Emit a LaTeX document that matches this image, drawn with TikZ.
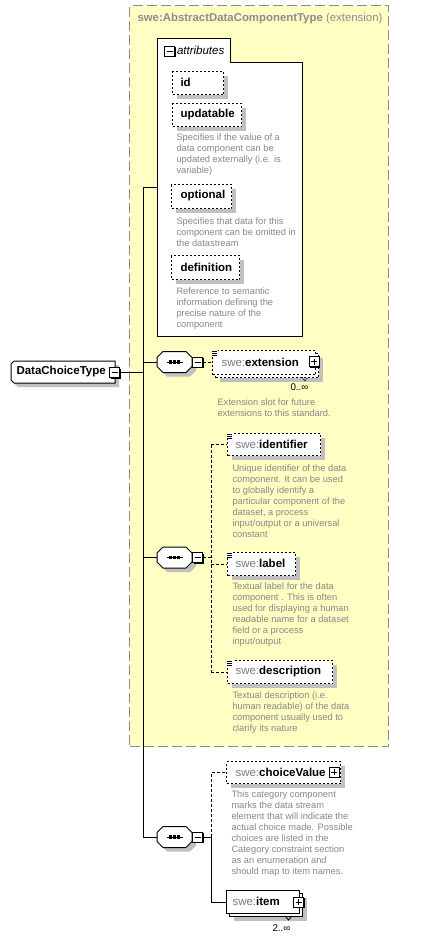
\documentclass[tikz,border=0pt]{standalone}
\usepackage{fontspec}
\setmainfont{Liberation Sans}
\usetikzlibrary{shadows}
\definecolor{yel}{RGB}{255,255,196}
\definecolor{bordergray}{RGB}{140,140,140}
\definecolor{descgray}{RGB}{135,135,135}
\definecolor{pregray}{RGB}{120,120,130}
\definecolor{shadowgray}{RGB}{192,192,192}
\newcommand{\swepre}{\textcolor{pregray}{swe:}}
\newcommand{\seqsym}[4]{%
  \node[inner sep=0, minimum width=35pt, minimum height=21pt] (#1) at (#2,#3) {};
  \begin{scope}[shift={(#2,#3)}]
    \fill[shadowgray, shift={(4,4)}] (-11.5,-10.5) -- (11.5,-10.5) -- (17.5,-4.5) -- (17.5,4.5) -- (11.5,10.5) -- (-11.5,10.5) -- (-17.5,4.5) -- (-17.5,-4.5) -- cycle;
    \draw[fill=white] (-11.5,-10.5) -- (11.5,-10.5) -- (17.5,-4.5) -- (17.5,4.5) -- (11.5,10.5) -- (-11.5,10.5) -- (-17.5,4.5) -- (-17.5,-4.5) -- cycle;
    \draw (-8,0) -- (8,0);
    \foreach \d in {-4,0,4} \fill (\d-1.6,-1.6) rectangle (\d+1.6,1.6);
  \end{scope}
  \node[minus] (#4) at (#2+23,#3) {};
}
\newcommand{\simpleicon}[2]{%
  \fill[white] (#1,#2) rectangle (#1+6,#2+6);
  \foreach \k in {1,3,5} \draw[line width=0.8pt] (#1,#2+\k) -- (#1+5,#2+\k);
}
\begin{document}
\begin{tikzpicture}[x=1pt,y=-1pt,line width=1pt,
  box/.style={draw=black, fill=white, inner sep=0, anchor=north west},
  dbox/.style={box, dash pattern=on 2pt off 2pt},
  shd/.style={general shadow={fill=shadowgray, shadow xshift=4pt, shadow yshift=-4pt}},
  pm/.style={draw=black, fill=white, minimum size=10pt, inner sep=0, general shadow={fill=black, shadow xshift=1pt, shadow yshift=-1pt}},
  minus/.style={pm, path picture={\draw[line width=1pt] ([xshift=2pt]path picture bounding box.west) -- ([xshift=-2pt]path picture bounding box.east);}},
  plus/.style={pm, path picture={\draw[line width=1pt] ([xshift=2pt]path picture bounding box.west) -- ([xshift=-2pt]path picture bounding box.east); \draw[line width=1pt] ([yshift=-2pt]path picture bounding box.north) -- ([yshift=2pt]path picture bounding box.south);}},
  lbl/.style={anchor=west, inner sep=0, font=\fontsize{11.5}{13}\selectfont},
  desc/.style={anchor=west, inner sep=0, align=left, text=descgray, font=\fontsize{9.3}{11}\selectfont},
  mult/.style={anchor=west, inner sep=0, font=\fontsize{9.8}{11}\selectfont},
  dsh/.style={dash pattern=on 3pt off 2pt}]
\useasboundingbox (0,0) rectangle (431,940);
\fill[white] (0,0) rectangle (431,940);

% extension region
\node[draw=bordergray, fill=yel, dash pattern=on 10pt off 4pt, line width=1pt, anchor=north west, minimum width=259pt, minimum height=741pt, inner sep=0] (extreg) at (129,5) {};
\node[anchor=west, inner sep=0, font=\fontsize{11.4}{13}\selectfont, text=bordergray] (title) at (137,19) {\textbf{swe:AbstractDataComponentType} (extension)};

% attributes
\node[inner sep=0, anchor=north west, minimum width=145pt, minimum height=298pt] (attrs) at (157,38) {};
\draw[fill=white] (157,38) -- (230,38) -- (230,62) -- (302,62) -- (302,336) -- (157,336) -- cycle;
\node[minus] (attrm) at (169.5,51) {};
\node[lbl] (attrl) at (176.5,50.5) {\textit{attributes}};

\node[dbox, shd, minimum width=51pt, minimum height=23pt] (aid) at (172,71) {};
\node[lbl] (aidl) at (180,82.5) {\textbf{id}};
\node[dbox, shd, minimum width=69pt, minimum height=23pt] (aupd) at (172,103) {};
\node[lbl] (aupdl) at (180,114.5) {\textbf{updatable}};
\node[desc] (aupdd) at (176,155) {Specifies if the value of a\\data component can be\\updated externally (i.e. is\\variable)};
\node[dbox, shd, minimum width=60pt, minimum height=24pt] (aopt) at (171,184) {};
\node[lbl] (aoptl) at (180,196) {\textbf{optional}};
\node[desc] (aoptd) at (176,232.5) {Specifies that data for this\\component can be omitted in\\the datastream};
\node[dbox, shd, minimum width=68pt, minimum height=24pt] (adef) at (171,255) {};
\node[lbl] (adefl) at (180,267) {\textbf{definition}};
\node[desc] (adefd) at (176,309) {Reference to semantic\\information defining the\\precise nature of the\\component};

% DataChoiceType
\node[inner sep=0, anchor=north west, minimum width=104pt, minimum height=22pt] (dct) at (11,361) {};
\fill[shadowgray] (18,365) -- (119,365) -- (119,387) -- (18,387) -- (15,384) -- (15,368) -- cycle;
\draw[fill=white] (14,361) -- (115,361) -- (115,383) -- (14,383) -- (11,380) -- (11,364) -- cycle;
\node[lbl] (dctl) at (16,372) {\textbf{DataChoiceType}};
\node[minus] (dctm) at (114.5,372.5) {};

% trunk
\coordinate (jt) at (143,187);
\coordinate (jb) at (143,837);
\draw (dctm.east) -- (dctm.east -| jt);
\draw (jt) -- (jb);
\draw (jt) -- (jt -| attrs.west);

% sequence 1
\seqsym{s1}{174.5}{362}{s1m}
\draw (s1.west -| jt) -- (s1.west);
\node[dbox, shd, minimum width=103pt, minimum height=24pt] (extb) at (215,353) {};
\node[dbox, minimum width=103pt, minimum height=24pt] (extf) at (212,350) {};
\simpleicon{212}{350}
\node[lbl] (extl) at (221,362) {\swepre\textbf{extension}};
\node[plus] (extp) at (314,361.5) {};
\draw[line width=0.8pt, dash pattern=on 1.5pt off 1pt] (302,377) -- (305,381) -- (308,377);
\node[mult] (extm) at (290,387.5) {0..∞};
\draw[dsh] (s1m.east) -- (s1m.east -| extf.west);
\node[desc] (extd) at (217,408) {Extension slot for future\\extensions to this standard.};

% sequence 2
\seqsym{s2}{174.5}{557.5}{s2m}
\draw (s2.west -| jt) -- (s2.west);
\coordinate (k2) at (211,557.5);
\node[dbox, shd, minimum width=93pt, minimum height=22pt] (ident) at (227,433) {};
\simpleicon{227}{433}
\node[lbl] (identl) at (235,444) {\swepre\textbf{identifier}};
\node[desc] (identd) at (232,501.5) {Unique identifier of the data\\component. It can be used\\to globally identify a\\particular component of the\\dataset, a process\\input/output or a universal\\constant};
\node[dbox, shd, minimum width=68pt, minimum height=23pt] (label) at (227,552) {};
\simpleicon{227}{552}
\node[lbl] (labell) at (235,563.5) {\swepre\textbf{label}};
\node[desc] (labeld) at (232,615) {Textual label for the data\\component . This is often\\used for displaying a human\\readable name for a dataset\\field or a process\\input/output};
\node[dbox, shd, minimum width=105pt, minimum height=23pt] (descr) at (227,660) {};
\simpleicon{227}{660}
\node[lbl] (descrl) at (235,671.5) {\swepre\textbf{description}};
\node[desc] (descrd) at (232,713) {Textual description (i.e.\\human readable) of the data\\component usually used to\\clarify its nature};
\draw[dsh] (s2m.east) -- (k2);
\draw[dsh] (ident.west -| k2) -- (descr.west -| k2);
\draw[dsh] (ident.west -| k2) -- (ident.west);
\draw[dsh] (label.west -| k2) -- (label.west);
\draw[dsh] (descr.west -| k2) -- (descr.west);

% sequence 3
\seqsym{s3}{174.5}{837}{s3m}
\draw (jb) -- (s3.west);
\coordinate (k3) at (211,837);
\node[dbox, shd, minimum width=114pt, minimum height=22pt] (cv) at (226,761) {};
\node[lbl] (cvl) at (235,772) {\swepre\textbf{choiceValue}};
\node[plus] (cvp) at (334,772) {};
\node[desc] (cvd) at (231,834) {This category component\\marks the data stream\\element that will indicate the\\actual choice made. Possible\\choices are listed in the\\Category constraint section\\as an enumeration and\\should map to item names.};
\node[box, shd, minimum width=73pt, minimum height=23pt] (itemb) at (229,893) {};
\node[box, minimum width=73pt, minimum height=23pt] (itemf) at (226,890) {};
\node[lbl] (iteml) at (232,901.5) {\swepre\textbf{item}};
\node[plus] (itemp) at (298.5,902) {};
\draw[line width=0.8pt] (285,916) -- (288.5,920) -- (292,916);
\node[mult] (itemm) at (272,928.5) {2..∞};
\draw (s3m.east) -- (k3);
\draw (k3) -- (k3 |- itemf.west) -- (itemf.west);
\draw[dsh] (k3) -- (k3 |- cv.west) -- (cv.west);
\end{tikzpicture}
\end{document}
